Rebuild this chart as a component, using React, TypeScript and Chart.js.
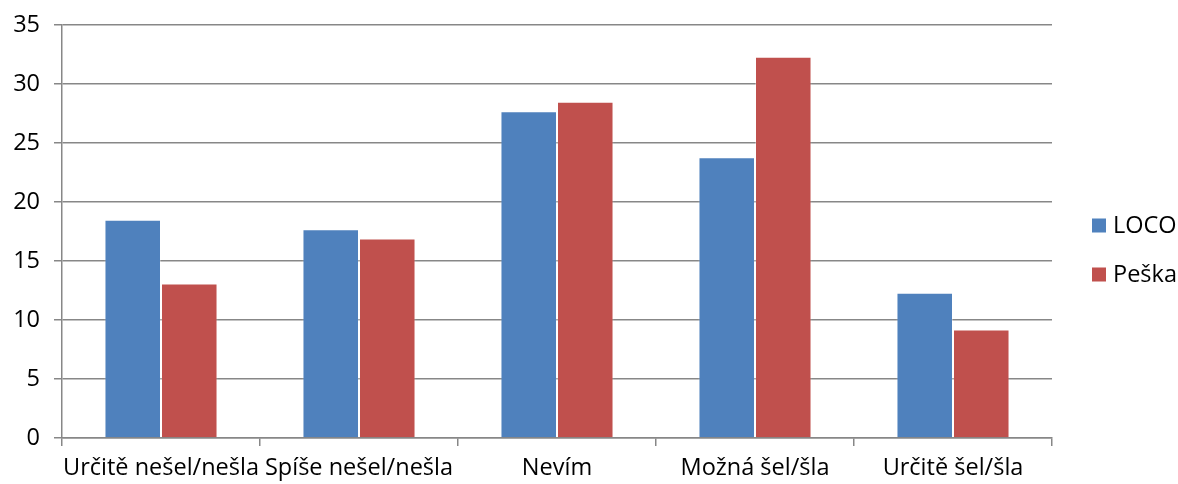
import React, { useEffect, useRef } from "react";
import { Chart, registerables } from "chart.js";

Chart.register(...registerables);

const categories = [
  "Určitě nešel/nešla",
  "Spíše nešel/nešla",
  "Nevím",
  "Možná šel/šla",
  "Určitě šel/šla",
];
const locoValues = [18.5, 17.7, 27.7, 23.8, 12.3];
const peskaValues = [13.1, 16.9, 28.5, 32.3, 9.2];
const seriesNames = ["LOCO", "Peška"];
const seriesColors = ["#4F81BD", "#C0504D"];
const yTicks = [0, 5, 10, 15, 20, 25, 30, 35];

const FONT_FAMILY = "'Open Sans', 'Noto Sans', sans-serif";
const FONT_SIZE = 23.5;
const GRID_COLOR = "#878787";

// Legend drawn to the right of the plot: square swatch + series name
const sideLegend = {
  id: "sideLegend",
  afterDraw(chart: any) {
    const ctx = chart.ctx;
    const x = chart.chartArea.right + 40;
    const rowsY = [225.5, 274.5];
    ctx.save();
    ctx.font = `${FONT_SIZE}px ${FONT_FAMILY}`;
    ctx.textBaseline = "middle";
    ctx.textAlign = "left";
    chart.data.datasets.forEach((ds: any, i: number) => {
      const cy = rowsY[i];
      ctx.fillStyle = ds.backgroundColor;
      ctx.fillRect(x, cy - 7, 14, 14);
      ctx.fillStyle = "#000";
      ctx.fillText(ds.label, x + 21, cy + 1);
    });
    ctx.restore();
  },
};

export default function App() {
  const canvasRef = useRef<HTMLCanvasElement | null>(null);

  useEffect(() => {
    let chart: Chart | null = null;
    let cancelled = false;

    const build = () => {
      if (cancelled || !canvasRef.current) return;
      chart = new Chart(canvasRef.current, {
        type: "bar",
        data: {
          labels: categories,
          datasets: [
            {
              label: seriesNames[0],
              data: locoValues,
              backgroundColor: seriesColors[0],
              borderColor: "rgba(255,255,255,0.3)",
              borderWidth: 1,
            },
            {
              label: seriesNames[1],
              data: peskaValues,
              backgroundColor: seriesColors[1],
              borderColor: "rgba(255,255,255,0.3)",
              borderWidth: 1,
            },
          ],
        },
        options: {
          responsive: false,
          animation: false,
          devicePixelRatio: 1,
          layout: { padding: { top: 25, right: 126, left: 0, bottom: 0 } },
          datasets: {
            bar: { barPercentage: 1, categoryPercentage: 0.571 },
          },
          plugins: {
            legend: { display: false },
            tooltip: { enabled: false },
          },
          scales: {
            x: {
              grid: {
                display: true,
                drawOnChartArea: false,
                drawTicks: true,
                tickLength: 8,
                color: GRID_COLOR,
                lineWidth: 1.5,
                offset: true,
              },
              border: { display: true, color: GRID_COLOR, width: 1.5 },
              ticks: {
                color: "#000",
                font: { family: FONT_FAMILY, size: FONT_SIZE },
                padding: 8,
                maxRotation: 0,
                autoSkip: false,
              },
              afterFit: (scale: any) => {
                scale.height = 46;
              },
            },
            y: {
              min: 0,
              max: 35,
              afterBuildTicks: (scale: any) => {
                scale.ticks = yTicks.map((v) => ({ value: v }));
              },
              grid: {
                color: GRID_COLOR,
                lineWidth: 1.5,
                tickLength: 8,
                drawTicks: true,
              },
              border: { display: true, color: GRID_COLOR, width: 1.5 },
              ticks: {
                color: "#000",
                font: { family: FONT_FAMILY, size: FONT_SIZE },
                padding: 14,
              },
              afterFit: (scale: any) => {
                scale.width = 62;
                scale.paddingTop = 0;
                scale.paddingBottom = 0;
              },
            },
          },
        },
        plugins: [sideLegend],
      });
    };

    const fontsReady = (document as any).fonts
      ? Promise.all([
          (document as any).fonts.load(`${FONT_SIZE}px "Open Sans"`),
        ]).catch(() => null)
      : Promise.resolve(null);
    fontsReady.then(build);

    return () => {
      cancelled = true;
      if (chart) chart.destroy();
    };
  }, []);

  return (
    <div
      style={{
        position: "fixed",
        left: 0,
        top: 0,
        width: 1178,
        height: 484,
        background: "#fff",
      }}
    >
      <canvas ref={canvasRef} width={1178} height={484} />
    </div>
  );
}
